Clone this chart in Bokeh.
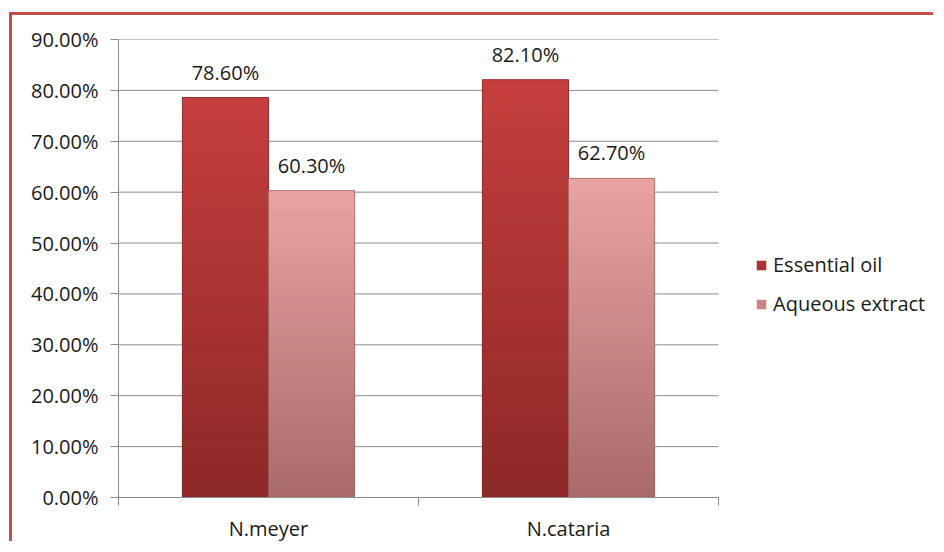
import numpy as np
from bokeh.plotting import figure
from bokeh.models import (ColumnDataSource, FixedTicker, NumeralTickFormatter, LabelSet,
                          Legend, LegendItem, Range1d)
from bokeh.core.properties import value
from bokeh.embed import file_html
from bokeh.resources import INLINE

# ---- data ----
categories = ["N.meyer", "N.cataria"]
series_names = ["Essential oil", "Aqueous extract"]
essential_oil = [0.786, 0.821]
aqueous_extract = [0.603, 0.627]
y_ticks = [0.0, 0.1, 0.2, 0.3, 0.4, 0.5, 0.6, 0.7, 0.8, 0.9]

# ---- style / layout ----
FONT = "Open Sans"
TXT = "#1a1a1a"
GRID = "#8c8c8c"
top_colors = ["#c53f3e", "#e9a3a2"]
bot_colors = ["#8e2828", "#a96a6a"]
mid_colors = ["#aa3333", "#cb8584"]
edge_colors = ["#6e1c1c", "#8a5252"]
bar_w = 0.287
W, H = 924, 529
B_LEFT, B_RIGHT, B_TOP, B_BOTTOM = 106, 2, 24, 46
CAT_PX = 300  # pixels per category on screen
n_cat = len(categories)
frame_w = W - B_LEFT - B_RIGHT
x_end = frame_w / CAT_PX  # extra room on the right of the plotting area for the legend

p = figure(width=W, height=H, output_backend="svg", toolbar_location=None,
           x_range=Range1d(0, x_end), y_range=Range1d(0, y_ticks[-1]),
           min_border_left=B_LEFT, min_border_right=B_RIGHT, min_border_top=B_TOP,
           min_border_bottom=B_BOTTOM,
           outline_line_color=None, background_fill_color="white", border_fill_color="white",
           styles={"border-top": "3px solid #c0504d", "border-left": "3px solid #c0504d",
                   "margin-top": "12px", "margin-left": "9px"})

def hex2rgb(h):
    return np.array([int(h[i:i + 2], 16) for i in (1, 3, 5)], dtype=float)

def rgb2hex(c):
    return "#%02x%02x%02x" % tuple(int(round(v)) for v in c)

# horizontal gridlines, limited to the category area
p.segment(x0=[0] * len(y_ticks), x1=[n_cat] * len(y_ticks), y0=y_ticks, y1=y_ticks,
          line_color=GRID, line_width=1)

centers = np.arange(n_cat) + 0.5
legend_items = []
n_slices = 40
for k, vals in enumerate([essential_oil, aqueous_extract]):
    xs = centers + (k - 0.5) * bar_w
    vals = np.array(vals)
    base = p.vbar(x=xs, top=vals, bottom=0, width=bar_w, fill_color=mid_colors[k], line_color=None)
    legend_items.append(LegendItem(label=series_names[k], renderers=[base]))
    sx, sb, st, sc = [], [], [], []
    c_top, c_bot = hex2rgb(top_colors[k]), hex2rgb(bot_colors[k])
    for x, v in zip(xs, vals):
        for i in range(n_slices):
            f = (i + 0.5) / n_slices
            sx.append(x)
            sb.append(v * i / n_slices)
            st.append(v * (i + 1) / n_slices)
            sc.append(rgb2hex(c_bot + (c_top - c_bot) * f))
    src = ColumnDataSource(dict(x=sx, bottom=sb, top=st, color=sc))
    p.vbar(x="x", top="top", bottom="bottom", width=bar_w, fill_color="color",
           line_color="color", line_width=0.5, source=src)
    p.vbar(x=xs, top=vals, bottom=0, width=bar_w, fill_alpha=0, line_color=edge_colors[k],
           line_alpha=0.6, line_width=1)
    lab_src = ColumnDataSource(dict(x=xs, y=vals, t=["%.2f%%" % (v * 100) for v in vals]))
    p.add_layout(LabelSet(x="x", y="y", text="t", source=lab_src, text_align="center",
                          text_baseline="alphabetic", y_offset=18, text_font=value(FONT),
                          text_font_size=value("20px"), text_color=TXT))

# axes
p.yaxis.ticker = FixedTicker(ticks=y_ticks)
p.yaxis.formatter = NumeralTickFormatter(format="0.00%")
p.yaxis.major_tick_out = 8
p.yaxis.major_tick_in = 0
p.yaxis.minor_tick_line_color = None
p.yaxis.major_label_standoff = 12
p.yaxis.major_tick_line_color = GRID

p.xaxis.ticker = FixedTicker(ticks=list(centers), minor_ticks=list(range(n_cat + 1)))
p.xaxis.major_label_overrides = {float(c): name for c, name in zip(centers, categories)}
p.xaxis.major_tick_line_color = None
p.xaxis.minor_tick_out = 8
p.xaxis.minor_tick_in = 0
p.xaxis.minor_tick_line_color = GRID
p.xaxis.major_label_standoff = 9
p.xaxis.bounds = (0, n_cat)

for ax in [p.xaxis, p.yaxis]:
    ax.axis_line_color = GRID
    ax.major_label_text_font = FONT
    ax.major_label_text_font_size = "20px"
    ax.major_label_text_color = TXT

p.xgrid.grid_line_color = None
p.ygrid.grid_line_color = None

legend = Legend(items=legend_items, location=(637, 180), border_line_color=None,
                background_fill_alpha=0, label_text_font=FONT, label_text_font_size="20px",
                label_text_color=TXT, glyph_width=12, glyph_height=12, spacing=12,
                label_standoff=6, padding=0, margin=0)
p.add_layout(legend)

open("out.html", "w").write(file_html(p, INLINE))
